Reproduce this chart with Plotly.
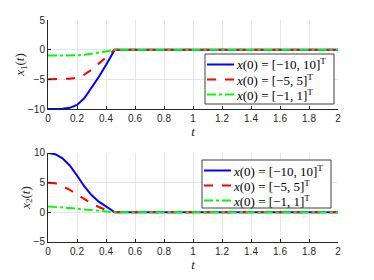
import plotly.graph_objects as go
from plotly.subplots import make_subplots

t = [0, 0.05, 0.1, 0.15, 0.2, 0.25, 0.3, 0.35, 0.4, 0.45, 0.46, 0.6, 1.0, 1.5, 2.0]

x1_a = [-10, -10, -9.95, -9.8, -9.3, -8.2, -6.5, -4.6, -2.6, -0.5, 0, 0, 0, 0, 0]
x1_b = [-5, -5, -5, -4.9, -4.7, -4.2, -3.4, -2.4, -1.3, -0.2, 0, 0, 0, 0, 0]
x1_c = [-1, -1, -1, -1, -0.95, -0.85, -0.7, -0.5, -0.3, -0.05, 0, 0, 0, 0, 0]

x2_a = [10, 9.8, 9.1, 7.9, 6.2, 4.4, 2.9, 1.8, 1.0, 0.2, 0, 0, 0, 0, 0]
x2_b = [5, 4.9, 4.4, 3.8, 3.0, 2.2, 1.5, 0.9, 0.4, 0.05, 0, 0, 0, 0, 0]
x2_c = [1, 0.92, 0.85, 0.72, 0.6, 0.48, 0.35, 0.22, 0.1, 0.02, 0, 0, 0, 0, 0]

names = ["<i>x</i>(0) = [−10, 10]<sup>T</sup>",
         "<i>x</i>(0) = [−5, 5]<sup>T</sup>",
         "<i>x</i>(0) = [−1, 1]<sup>T</sup>"]
colors = ["#0000FF", "#FF0000", "#00FF00"]
dashes = ["solid", "dash", "dashdot"]

x_ticks = [0, 0.2, 0.4, 0.6, 0.8, 1, 1.2, 1.4, 1.6, 1.8, 2]
x_ticktext = ["0", "0.2", "0.4", "0.6", "0.8", "1", "1.2", "1.4", "1.6", "1.8", "2"]

SERIF = "Liberation Serif"
SANS = "Liberation Sans"

# figure geometry (page body has an 8px default margin -> figure drawn 8px smaller)
W, H = 366, 272
ML, MR, MT, MB = 40, 36, 12, 38
PW, PH = W - ML - MR, H - MT - MB
OFF = 8


def px_to_paper(x_px, y_px):
    return (x_px - OFF - ML) / PW, (H - MB - (y_px - OFF)) / PH


fig = make_subplots(rows=2, cols=1)
for ys, nm, c, d in zip([x1_a, x1_b, x1_c], names, colors, dashes):
    fig.add_trace(go.Scatter(x=t, y=ys, mode="lines", name=nm, showlegend=False,
                             line=dict(color=c, width=2, dash=d)), row=1, col=1)
for ys, nm, c, d in zip([x2_a, x2_b, x2_c], names, colors, dashes):
    fig.add_trace(go.Scatter(x=t, y=ys, mode="lines", name=nm, showlegend=False,
                             line=dict(color=c, width=2, dash=d)), row=2, col=1)

# legend boxes (compact, MATLAB-like) drawn from the trace styles
shapes, annotations = [], []
for (left, top, right, bottom) in [(205, 54, 334, 104), (202, 160, 331, 208)]:
    x0, y0 = px_to_paper(left, top)
    x1, y1 = px_to_paper(right, bottom)
    shapes.append(dict(type="rect", xref="paper", yref="paper", x0=x0, x1=x1, y0=y1, y1=y0,
                       line=dict(color="#404040", width=1), fillcolor="white", layer="above"))
    for i, (nm, c, d) in enumerate(zip(names, colors, dashes)):
        row_y = top + 10.5 + i * 15
        sx0, sy = px_to_paper(left + 2, row_y)
        sx1, _ = px_to_paper(left + 29, row_y)
        shapes.append(dict(type="line", xref="paper", yref="paper", x0=sx0, x1=sx1, y0=sy, y1=sy,
                           line=dict(color=c, width=2, dash=d), layer="above"))
        tx, _ = px_to_paper(left + 29, row_y)
        annotations.append(dict(text=nm, xref="paper", yref="paper", x=tx, y=sy,
                                xanchor="left", yanchor="middle", showarrow=False,
                                font=dict(family=SERIF, size=13, color="#000000")))

axis_common = dict(showline=True, linecolor="#262626", linewidth=1,
                   ticks="inside", ticklen=3, tickcolor="#262626",
                   showgrid=True, gridcolor="#e6e6e6", gridwidth=1,
                   zeroline=False, mirror=False, automargin=False,
                   tickfont=dict(family=SANS, size=10, color="#262626"))
title_font = dict(family=SERIF, size=13, color="#262626")

fig.update_layout(
    width=W, height=H,
    margin=dict(l=ML, r=MR, t=MT, b=MB),
    plot_bgcolor="white", paper_bgcolor="white",
    font=dict(family=SERIF),
    showlegend=False,
    xaxis=dict(domain=[0, 1], range=[0, 2], tickvals=x_ticks, ticktext=x_ticktext,
               title=dict(text="<i>t</i>", standoff=0, font=title_font),
               **axis_common),
    yaxis=dict(domain=[0.599, 1], range=[-10, 5], tickvals=[-10, -5, 0, 5],
               title=dict(text="<i>x</i><sub>1</sub>(<i>t</i>)", standoff=0, font=title_font),
               **axis_common),
    xaxis2=dict(domain=[0, 1], range=[0, 2], tickvals=x_ticks, ticktext=x_ticktext,
                title=dict(text="<i>t</i>", standoff=0, font=title_font),
                **axis_common),
    yaxis2=dict(domain=[0, 0.401], range=[-5, 10], tickvals=[-5, 0, 5, 10],
                title=dict(text="<i>x</i><sub>2</sub>(<i>t</i>)", standoff=0, font=title_font),
                **axis_common),
    shapes=shapes,
    annotations=annotations,
)

fig.write_html("out.html")
